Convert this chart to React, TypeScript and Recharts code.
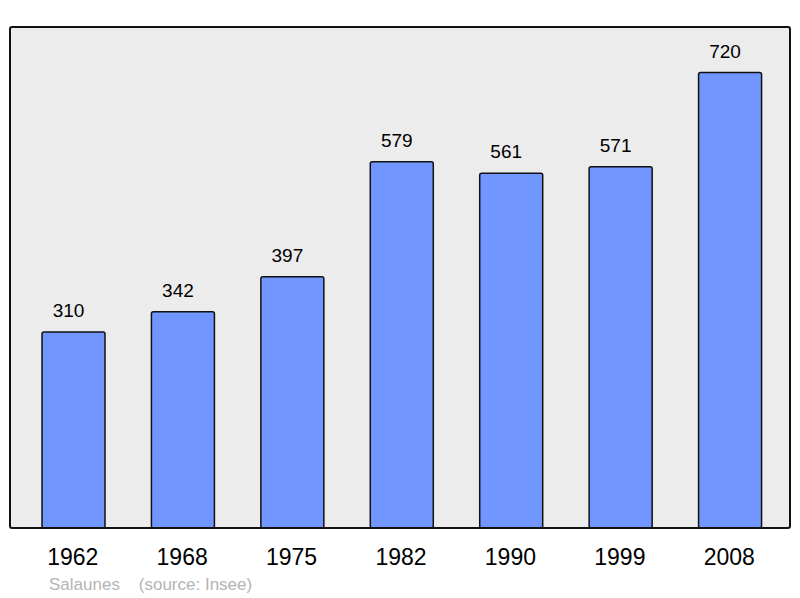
import { BarChart, Bar, XAxis, YAxis, CartesianGrid, LabelList } from 'recharts';

const years = ['1962', '1968', '1975', '1982', '1990', '1999', '2008'];
const population = [310, 342, 397, 579, 561, 571, 720];
const yDomain = [0, 792];

const data = years.map((year, i) => ({ year, population: population[i] }));

export default function App() {
  return (
    <div style={{ position: 'absolute', left: 0, top: 0, width: 800, height: 598, fontFamily: '"Liberation Sans", Arial, sans-serif' }}>
      <BarChart
        width={800}
        height={598}
        data={data}
        margin={{ top: 27, right: 10, bottom: 40, left: 10 }}
        barSize={63}
      >
        <CartesianGrid fill="#ececec" horizontal={false} vertical={false} />
        <XAxis
          dataKey="year"
          height={30}
          padding={{ left: 9, right: 5 }}
          axisLine={false}
          tickLine={false}
          tickMargin={15}
          tick={{ fill: '#000', fontSize: 23, dx: -1 }}
          interval={0}
        />
        <YAxis hide domain={yDomain} />
        <Bar
          dataKey="population"
          fill="#7196ff"
          stroke="#111"
          strokeWidth={1.5}
          radius={2}
          isAnimationActive={false}
        >
          <LabelList dataKey="population" position="top" offset={15} dx={-5} fill="#000" fontSize={19} />
        </Bar>
      </BarChart>
      <div
        style={{
          position: 'absolute',
          left: 9,
          top: 26,
          width: 782,
          height: 503,
          boxSizing: 'border-box',
          border: '2px solid #111',
          borderRadius: 3,
          pointerEvents: 'none',
        }}
      />
      <div style={{ position: 'absolute', left: 49, top: 575, fontSize: 17, color: '#b4b4b4', whiteSpace: 'pre' }}>
        {'Salaunes    (source: Insee)'}
      </div>
    </div>
  );
}
